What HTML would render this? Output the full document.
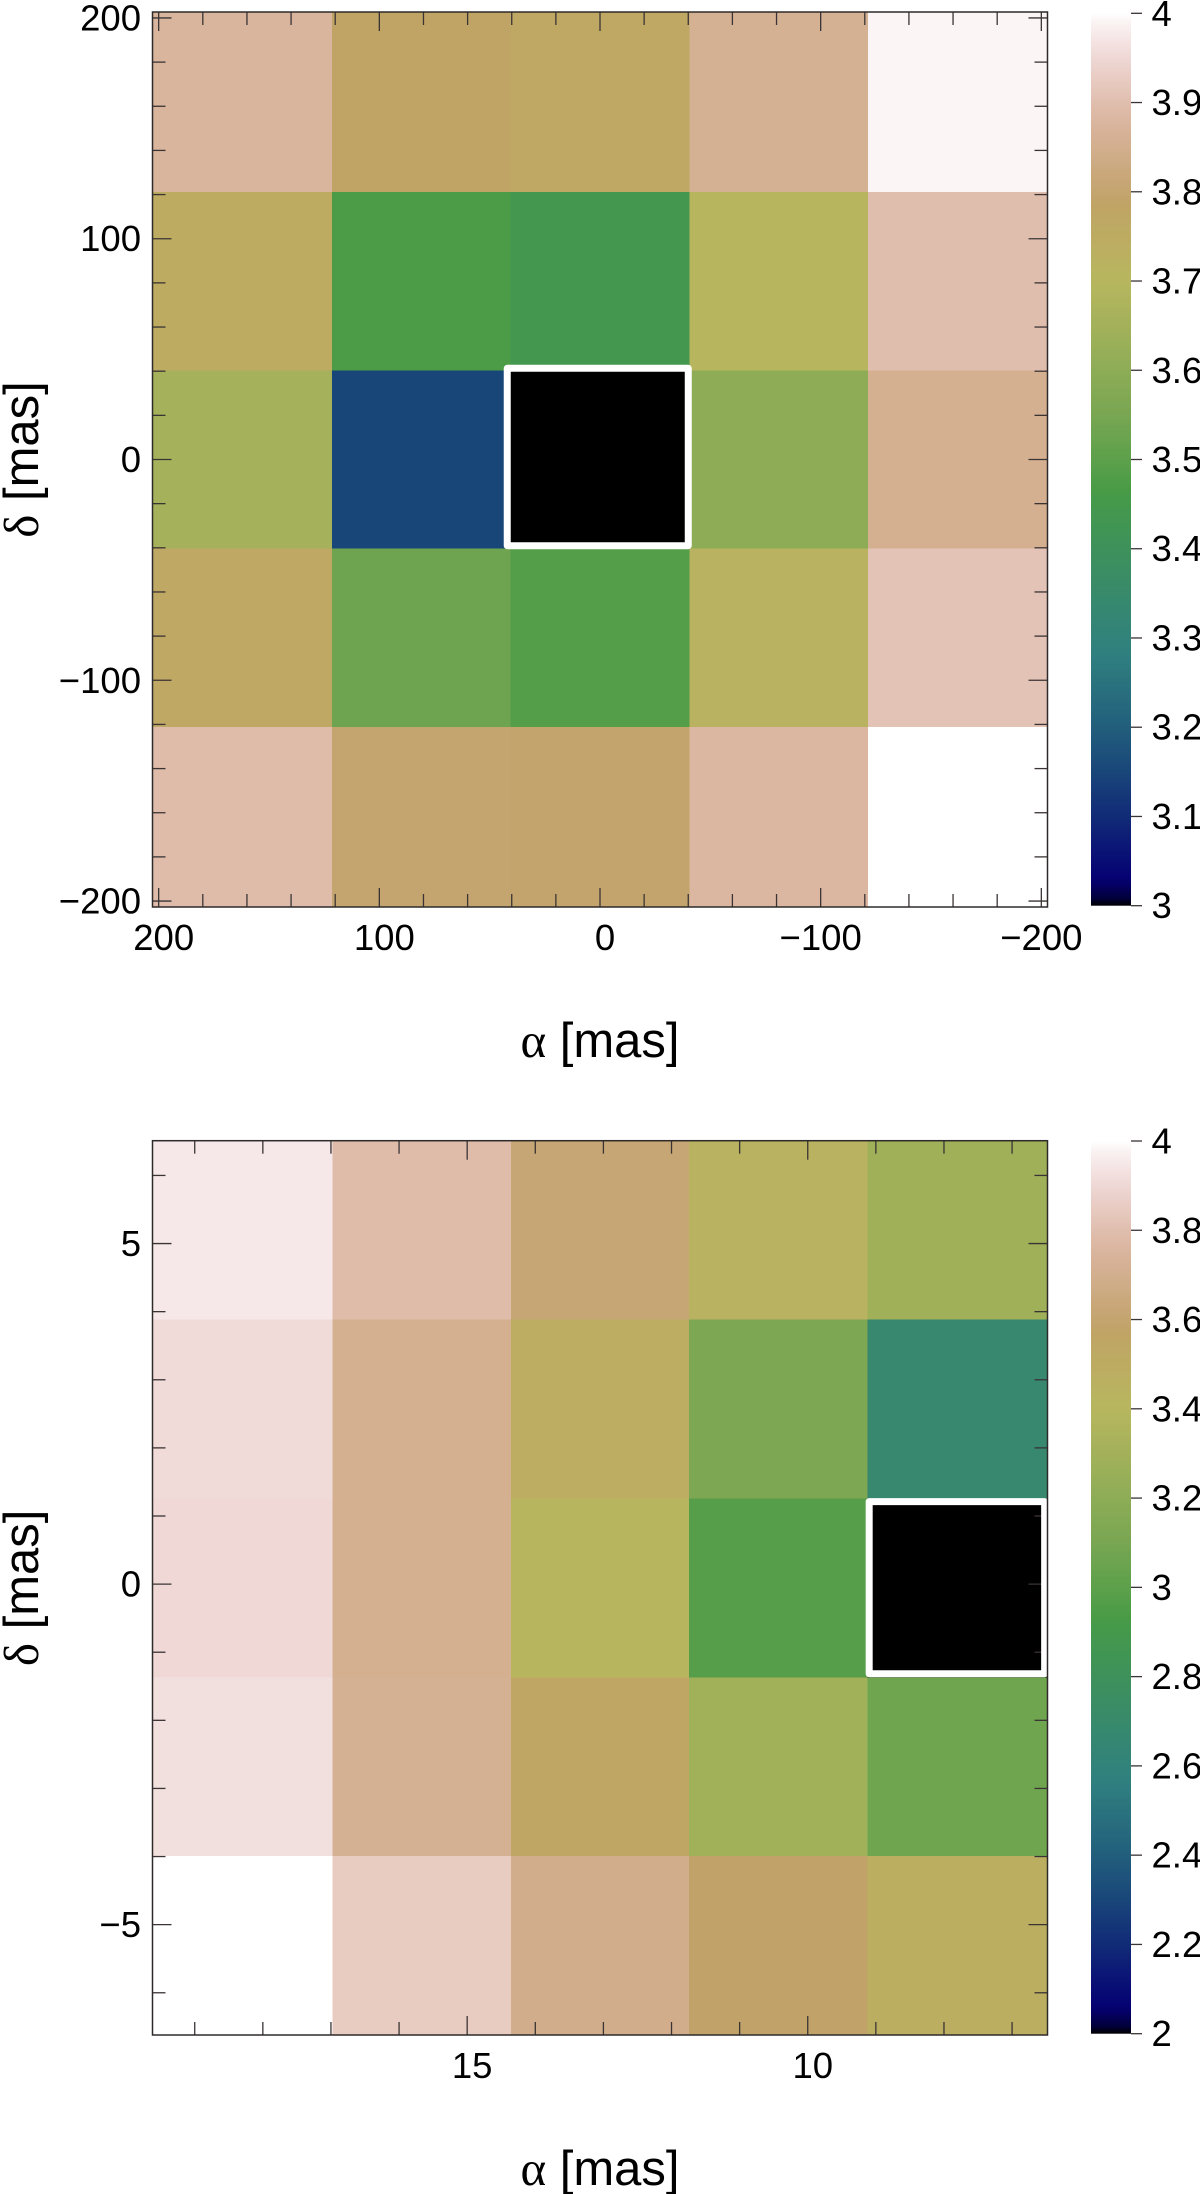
<!DOCTYPE html>
<html>
<head>
<meta charset="utf-8">
<title>Heatmaps</title>
<style>
html,body{margin:0;padding:0;background:#fff;width:1200px;height:2194px;overflow:hidden}
svg{display:block}
text{font-family:"Liberation Sans",sans-serif;fill:#000}
.tick-label{font-size:36.5px}
.axis-title{font-size:49px}
.greek{font-family:"Liberation Serif",serif}
</style>
</head>
<body>
<svg id="figure" xmlns="http://www.w3.org/2000/svg" width="1200" height="2194" viewBox="0 0 1200 2194">
<rect width="1200" height="2194" fill="#fff"/>
<defs id="defs"></defs>
</svg>
<script>
// Top panel data
const p1AlphaCenters = [161.8, 80.9, 0, -80.9, -161.8];
const p1DeltaCenters = [161.6, 80.8, 0, -80.8, -161.6];
const p1Values = [
  [3.874, 3.785, 3.770, 3.860, 3.992],
  [3.750, 3.470, 3.440, 3.700, 3.900],
  [3.655, 3.150, 3.000, 3.600, 3.855],
  [3.770, 3.530, 3.485, 3.720, 3.910],
  [3.895, 3.800, 3.795, 3.880, 4.000]
];
const p1XMajor = [200, 100, 0, -100, -200];
const p1XMinor = [180, 160, 140, 120, 80, 60, 40, 20, -20, -40, -60, -80, -120, -140, -160, -180];
const p1YMajor = [200, 100, 0, -100, -200];
const p1YMinor = [180, 160, 140, 120, 80, 60, 40, 20, -20, -40, -60, -80, -120, -140, -160, -180];
const p1CbarTicks = [3, 3.1, 3.2, 3.3, 3.4, 3.5, 3.6, 3.7, 3.8, 3.9, 4];
const p1CbarLabels = ["3", "3.1", "3.2", "3.3", "3.4", "3.5", "3.6", "3.7", "3.8", "3.9", "4"];

// Bottom panel data
const p2AlphaCenters = [18.29, 15.67, 13.05, 10.43, 7.81];
const p2DeltaCenters = [5.197, 2.571, -0.055, -2.681, -5.307];
const p2Values = [
  [3.950, 3.790, 3.620, 3.440, 3.280],
  [3.910, 3.710, 3.490, 3.120, 2.680],
  [3.900, 3.710, 3.410, 2.980, 2.000],
  [3.925, 3.720, 3.550, 3.290, 3.070],
  [4.000, 3.850, 3.690, 3.580, 3.480]
];
const p2XMajor = [15, 10];
const p2XMinor = [19, 18, 17, 16, 14, 13, 12, 11, 9, 8, 7];
const p2YMajor = [5, 0, -5];
const p2YMinor = [6, 4, 3, 2, 1, -1, -2, -3, -4, -6];
const p2CbarTicks = [2, 2.2, 2.4, 2.6, 2.8, 3, 3.2, 3.4, 3.6, 3.8, 4];
const p2CbarLabels = ["2", "2.2", "2.4", "2.6", "2.8", "3", "3.2", "3.4", "3.6", "3.8", "4"];

// gist_earth colormap anchors
const cmapR = [[0,0],[0.2824,0.1882],[0.4588,0.2714],[0.5490,0.4719],[0.6980,0.7176],[0.7882,0.7553],[1,0.9922]];
const cmapG = [[0,0],[0.0275,0],[0.1098,0.1893],[0.1647,0.3035],[0.2078,0.3841],[0.2824,0.5020],[0.5216,0.6397],[0.6980,0.7171],[0.7882,0.6392],[0.8157,0.6549],[0.8667,0.6991],[0.8980,0.7430],[0.9412,0.8275],[0.9647,0.8816],[0.9961,0.9733],[1,0.9843]];
const cmapB = [[0,0],[0.0039,0.1684],[0.0078,0.2212],[0.0275,0.4329],[0.0314,0.4549],[0.2824,0.5004],[0.4667,0.2748],[0.5451,0.3205],[0.7843,0.3961],[0.8941,0.6651],[1,0.9843]];

const NS = "http://www.w3.org/2000/svg";
const svg = document.getElementById("figure");
const defs = document.getElementById("defs");

function interp(table, x) {
  for (let i = 1; i < table.length; i++) {
    if (x <= table[i][0]) {
      const a = table[i - 1], b = table[i];
      return a[1] + (b[1] - a[1]) * (x - a[0]) / (b[0] - a[0]);
    }
  }
  return table[table.length - 1][1];
}
function cmap(f) {
  const t = Math.max(0, Math.min(1, f));
  if (t >= 1) return "rgb(255,255,255)";
  const c = [cmapR, cmapG, cmapB].map(tb => Math.round(interp(tb, t) * 255));
  return "rgb(" + c.join(",") + ")";
}
function linear(d0, d1, r0, r1) {
  return v => r0 + (v - d0) * (r1 - r0) / (d1 - d0);
}
function make(tag, attrs, parent) {
  const el = document.createElementNS(NS, tag);
  for (const k in attrs) el.setAttribute(k, attrs[k]);
  parent.appendChild(el);
  return el;
}
function fmt(v) {
  return v < 0 ? "\u2212" + Math.abs(v) : String(v);
}
const INK = "#3a3434";

function drawPanel(p) {
  const g = make("g", {}, svg);
  
  
  const x = linear(p.xDomain[0], p.xDomain[1], p.left, p.right);
  const y = linear(p.yDomain[0], p.yDomain[1], p.top, p.bottom);
  const cellW = Math.abs(p.alpha[1] - p.alpha[0]);
  const cellH = Math.abs(p.delta[1] - p.delta[0]);
  const c = linear(p.vmin, p.vmax, 0, 1);

  // Heatmap cells (outer rows and columns run to the plot frame)
  let minRow = 0, minCol = 0;
  const lastRow = p.values.length - 1;
  p.values.forEach((row, ri) => {
    const lastCol = row.length - 1;
    row.forEach((val, ci) => {
      if (val < p.values[minRow][minCol]) { minRow = ri; minCol = ci; }
      const x0 = ci === 0 ? p.left : x(p.alpha[ci] + cellW / 2);
      const x1 = ci === lastCol ? p.right : x(p.alpha[ci] - cellW / 2);
      const y0 = ri === 0 ? p.top : y(p.delta[ri] + cellH / 2);
      const y1 = ri === lastRow ? p.bottom : y(p.delta[ri] - cellH / 2);
      const cell = make("rect", {
        x: x0, y: y0, width: x1 - x0 + 0.4, height: y1 - y0 + 0.4,
        fill: cmap(c(val)), "shape-rendering": "crispEdges"
      }, g);
      
      
    });
  });

  // Ticks
  const tick = (x1, y1, x2, y2) => {
    const t = make("line", { x1, y1, x2, y2, stroke: INK, "stroke-width": 1.3 }, g);
    
    
  };
  const MAJ = 19, MIN = 13;
  p.xMajor.forEach(v => { tick(x(v), p.bottom, x(v), p.bottom - MAJ); tick(x(v), p.top, x(v), p.top + MAJ); });
  p.xMinor.forEach(v => { tick(x(v), p.bottom, x(v), p.bottom - MIN); tick(x(v), p.top, x(v), p.top + MIN); });
  p.yMajor.forEach(v => { tick(p.left, y(v), p.left + MAJ, y(v)); tick(p.right, y(v), p.right - MAJ, y(v)); });
  p.yMinor.forEach(v => { tick(p.left, y(v), p.left + MIN, y(v)); tick(p.right, y(v), p.right - MIN, y(v)); });

  // Highlight box around minimum cell
  const bx0 = x(p.alpha[minCol] + cellW / 2) + p.box[0];
  const bx1 = x(p.alpha[minCol] - cellW / 2) + p.box[1];
  const by0 = y(p.delta[minRow] + cellH / 2) + p.box[2];
  const by1 = y(p.delta[minRow] - cellH / 2) + p.box[3];
  const box = make("rect", {
    x: bx0, y: by0, width: bx1 - bx0, height: by1 - by0,
    fill: "none", stroke: "#fff", "stroke-width": 7, "stroke-linejoin": "round"
  }, g);
  
  

  // Frame
  const frame = make("rect", {
    x: p.left, y: p.top, width: p.right - p.left, height: p.bottom - p.top,
    fill: "none", stroke: "#2e2a2a", "stroke-width": 1.5
  }, g);
  
  

  // Tick labels
  p.xMajor.forEach(v => {
    const t = make("text", { x: x(v) + (v < 0 ? 0 : 5), y: p.bottom + 43, "text-anchor": "middle", class: "tick-label" }, g);
    t.textContent = fmt(v);
    
    
  });
  p.yMajor.forEach(v => {
    const t = make("text", { x: 141, y: y(v) + 12.5, "text-anchor": "end", class: "tick-label" }, g);
    t.textContent = fmt(v);
    
    
  });

  // Axis titles
  const xt = make("text", { x: 600, y: p.bottom + 150, "text-anchor": "middle", class: "axis-title" }, g);
  
  
  const xa = make("tspan", { class: "greek" }, xt);
  xa.textContent = "\u03B1";
  xt.appendChild(document.createTextNode(" [mas]"));

  const cy = (p.top + p.bottom) / 2;
  const yt = make("text", { transform: "translate(38," + cy + ") rotate(-90)", "text-anchor": "middle", class: "axis-title" }, g);
  
  
  const yd = make("tspan", { class: "greek" }, yt);
  yd.textContent = "\u03B4";
  yt.appendChild(document.createTextNode(" [mas]"));

  // Colorbar
  const gid = p.name + "-grad";
  const grad = make("linearGradient", { id: gid, x1: 0, y1: 1, x2: 0, y2: 0 }, defs);
  for (let i = 0; i <= 120; i++) {
    make("stop", { offset: i / 120, "stop-color": cmap(i / 120) }, grad);
  }
  const cb = linear(p.vmin, p.vmax, p.cbBottom, p.cbTop);
  const bar = make("rect", { x: 1091, y: cb(p.vmax), width: 40, height: cb(p.vmin) - cb(p.vmax), fill: "url(#" + gid + ")" }, g);
  
  
  p.cbTicks.forEach((v, i) => {
    const t = make("line", { x1: 1131, y1: cb(v), x2: 1142, y2: cb(v), stroke: INK, "stroke-width": 1.3 }, g);
    
    
    const l = make("text", { x: 1151.5, y: cb(v) + 12.5, class: "tick-label" }, g);
    l.textContent = p.cbLabels[i];
    
    
  });
}

drawPanel({
  name: "panel-top", left: 152.5, right: 1047.5, top: 12, bottom: 907,
  xDomain: [202.8, -202.8], yDomain: [202.7, -202.7],
  alpha: p1AlphaCenters, delta: p1DeltaCenters, values: p1Values,
  vmin: 3, vmax: 4, xMajor: p1XMajor, xMinor: p1XMinor, yMajor: p1YMajor, yMinor: p1YMinor,
  cbBottom: 905.7, cbTop: 13.3, cbTicks: p1CbarTicks, cbLabels: p1CbarLabels,
  box: [-3.5, -1, -2, -3]
});
drawPanel({
  name: "panel-bottom", left: 152.5, right: 1047.5, top: 1140.7, bottom: 2035,
  xDomain: [19.62, 6.48], yDomain: [6.51, -6.62],
  alpha: p2AlphaCenters, delta: p2DeltaCenters, values: p2Values,
  vmin: 2, vmax: 4, xMajor: p2XMajor, xMinor: p2XMinor, yMajor: p2YMajor, yMinor: p2YMinor,
  cbBottom: 2033.7, cbTop: 1141, cbTicks: p2CbarTicks, cbLabels: p2CbarLabels,
  box: [1.5, -1.5, 3.2, -3.5]
});
</script>
</body>
</html>
